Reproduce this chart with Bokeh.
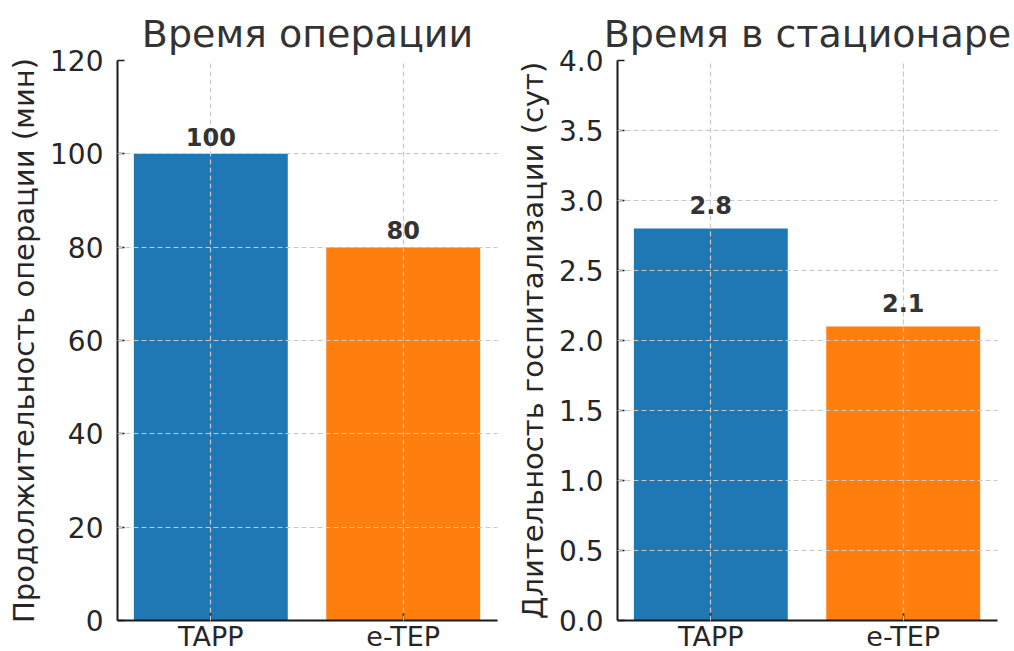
from bokeh.plotting import figure
from bokeh.layouts import row
from bokeh.models import (Range1d, FixedTicker, SingleIntervalTicker,
                          NumeralTickFormatter, ColumnDataSource, LabelSet)
from bokeh.core.properties import value
from bokeh.embed import file_html
from bokeh.resources import INLINE

categories = ["TAPP", "e-TEP"]
op_time = [100, 80]
stay_days = [2.8, 2.1]
colors = ["#1f77b4", "#ff7f0e"]
titles = ["Время операции", "Время в стационаре"]
ylabels = ["Продолжительность операции (мин)", "Длительность госпитализации (сут)"]
y_max = [120, 4.0]
y_step = [20, 0.5]
y_fmt = ["0", "0.0"]

FONT = "DejaVu Sans"


def make(i, values, label_gap, border_left, border_right):
    xs = list(range(len(categories)))
    src = ColumnDataSource(dict(x=xs, top=values, color=colors,
                                text=[f"{v:g}" for v in values]))
    p = figure(frame_width=380, frame_height=560,
               x_range=Range1d(-0.485, len(categories) - 1 + 0.49),
               y_range=Range1d(0, y_max[i]),
               output_backend="svg", toolbar_location=None,
               min_border_left=border_left, min_border_right=border_right,
               min_border_top=60, min_border_bottom=30)
    p.vbar(x="x", top="top", width=0.8, bottom=0, color="color",
           line_color=None, source=src)

    p.title.text = titles[i]
    p.title.align = "center"
    p.title.text_font = FONT
    p.title.text_font_size = "38px"
    p.title.text_font_style = "normal"
    p.title.text_color = "#333333"
    p.title.standoff = 9

    p.outline_line_color = None
    p.background_fill_color = "white"

    p.xaxis.ticker = FixedTicker(ticks=xs)
    p.xaxis.major_label_overrides = {x: c for x, c in zip(xs, categories)}
    p.yaxis.ticker = SingleIntervalTicker(interval=y_step[i])
    p.yaxis.formatter = NumeralTickFormatter(format=y_fmt[i])
    p.yaxis.axis_label = ylabels[i]

    for ax in (p.xaxis, p.yaxis):
        ax.axis_line_color = "#1a1a1a"
        ax.axis_line_width = 2
        ax.major_tick_in = 7
        ax.major_tick_out = 0
        ax.major_tick_line_width = 1.6
        ax.major_tick_line_color = "#1a1a1a"
        ax.minor_tick_in = 0
        ax.minor_tick_out = 0
        ax.major_label_text_font = FONT
        ax.major_label_text_font_size = "28px"
        ax.major_label_text_color = "#262626"
        ax.axis_label_text_font = FONT
        ax.axis_label_text_font_size = "29px"
        ax.axis_label_text_font_style = "normal"
        ax.axis_label_text_color = "#262626"
    p.xaxis.major_label_text_font_size = "27px"
    p.yaxis.major_label_standoff = 14
    p.xaxis.major_label_standoff = 0
    p.yaxis.axis_label_standoff = 6

    for g in (p.xgrid, p.ygrid):
        g.grid_line_color = "#c8c8c8"
        g.grid_line_width = 1.2
        g.grid_line_dash = "5 3"
        g.level = "guide"

    labels = LabelSet(x="x", y="top", text="text", source=src,
                      text_align="center", text_baseline="alphabetic",
                      y_offset=label_gap, text_font=value(FONT),
                      text_font_size=value("24px"),
                      text_font_style=value("bold"),
                      text_color=value("#333333"))
    p.add_layout(labels)
    return p


p1 = make(0, op_time, 8, 117, 11)
p2 = make(1, stay_days, 15, 109, 14)
layout = row(p1, p2)

open("out.html", "w").write(file_html(layout, INLINE))
